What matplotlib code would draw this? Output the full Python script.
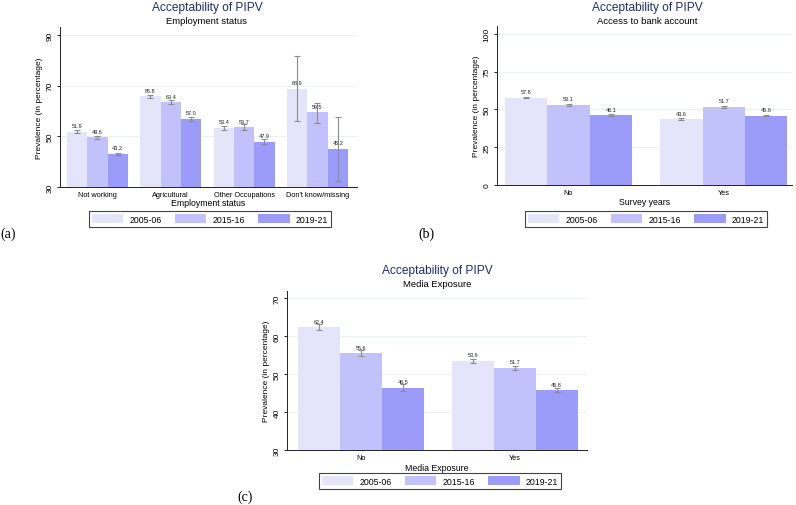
import matplotlib
matplotlib.use('Agg')
import matplotlib.pyplot as plt
import numpy as np

plt.rcParams['font.family'] = ['Liberation Sans', 'DejaVu Sans']

years = ['2005-06', '2015-16', '2019-21']
colors = ['#e4e4fb', '#c1c1fc', '#9b9bfa']
title_color = '#1f2d6e'

# (a) employment status
emp_cats = ['Not working', 'Agricultural', 'Other Occupations', "Don't know/missing"]
emp_vals = [[51.9, 65.8, 53.4, 68.9],
            [49.6, 63.4, 53.7, 59.5],
            [43.2, 57.0, 47.9, 45.2]]
emp_lo = [[51.4, 65.1, 52.6, 56.0],
          [49.1, 62.6, 52.7, 55.4],
          [42.8, 56.2, 46.8, 32.5]]
emp_hi = [[52.4, 66.5, 54.2, 81.7],
          [50.1, 64.2, 54.7, 63.3],
          [43.6, 57.8, 49.0, 57.7]]

# (b) bank account
bank_cats = ['No', 'Yes']
bank_vals = [[57.8, 43.6], [53.1, 51.7], [46.1, 45.9]]
bank_lo = [[57.3, 42.7], [52.4, 51.2], [45.3, 45.5]]
bank_hi = [[58.3, 44.5], [53.8, 52.2], [46.9, 46.3]]

# (c) media exposure
media_cats = ['No', 'Yes']
media_vals = [[62.4, 53.6], [55.6, 51.7], [46.5, 45.8]]
media_lo = [[61.6, 53.1], [54.85, 51.2], [45.6, 45.3]]
media_hi = [[63.2, 54.1], [56.35, 52.2], [47.4, 46.3]]

W, H = 796, 506
fig = plt.figure(figsize=(W / 100, H / 100), dpi=100)


def px_axes(x0, x1, y0, y1):
    # y0 top, y1 bottom in pixels
    return fig.add_axes([x0 / W, 1 - y1 / H, (x1 - x0) / W, (y1 - y0) / H])


def panel(ax, cats, vals, lo, hi, ylim, yticks, xlim, width, fmt='%.1f'):
    x = np.arange(len(cats))
    for i, yr in enumerate(years):
        pos = x + (i - 1) * width
        v = np.array(vals[i])
        err = [v - np.array(lo[i]), np.array(hi[i]) - v]
        ax.bar(pos, v, width, color=colors[i], label=yr, zorder=2)
        ax.errorbar(pos, v, yerr=err, fmt='none', ecolor='#8c8c8c',
                    elinewidth=0.8, capsize=2.2, capthick=0.8, zorder=3)
        for p, val in zip(pos, v):
            ax.annotate(fmt % val, (p, val), xytext=(0, 2.5),
                        textcoords='offset points', ha='center', va='bottom',
                        fontsize=4, color='#222222', zorder=4)
    ax.set_xlim(*xlim)
    ax.set_ylim(*ylim)
    ax.set_yticks(yticks)
    ax.set_yticklabels([str(t) for t in yticks], rotation=90, va='center',
                       fontsize=6)
    ax.set_xticks(x)
    ax.set_xticklabels(cats, fontsize=5.3)
    for t in yticks[1:]:
        ax.axhline(t, color='#e6f0f1', lw=0.6, zorder=1)
    for s in ['top', 'right']:
        ax.spines[s].set_visible(False)
    for s in ['left', 'bottom']:
        ax.spines[s].set_linewidth(0.7)
        ax.spines[s].set_color('#222222')
    ax.tick_params(axis='y', length=2.5, width=0.6, pad=2)
    ax.tick_params(axis='x', length=0, pad=3)
    ax.set_ylabel('Prevalence (in percentage)', fontsize=6, labelpad=3)


def titles(cx, ty, sub):
    fig.text(cx / W, 1 - ty / H, 'Acceptability of PIPV', ha='center',
             va='center', fontsize=8.6, color=title_color)
    fig.text(cx / W, 1 - (ty + 14) / H, sub, ha='center', va='center',
             fontsize=6.8, color='black')


def legend(ax, cx, cy):
    handles, labels = ax.get_legend_handles_labels()
    leg = fig.legend(handles, labels, loc='center', ncol=3,
                     bbox_to_anchor=(cx / W, 1 - cy / H), fontsize=6.3,
                     handlelength=3.6, handleheight=1.1, handletextpad=0.7,
                     columnspacing=1.5, borderpad=0.35, fancybox=False,
                     framealpha=1)
    leg.get_frame().set_edgecolor('#444444')
    leg.get_frame().set_linewidth(0.8)


def tag(cx, cy, s):
    fig.text(cx / W, 1 - cy / H, s, ha='center', va='center', fontsize=10,
             family=['Liberation Serif', 'DejaVu Serif'])


# panel (a)
ax1 = px_axes(60, 357, 28, 188)
panel(ax1, emp_cats, emp_vals, emp_lo, emp_hi, (30, 93.2), [30, 50, 70, 90],
      (-0.51, 3.54), 0.277)
ax1.set_xlabel('Employment status', fontsize=6.3, labelpad=0)
titles(207, 7.5, 'Employment status')
legend(ax1, 210, 220)
tag(8, 234, '(a)')

# panel (b)
ax2 = px_axes(497, 792, 27, 185.7)
panel(ax2, bank_cats, bank_vals, bank_lo, bank_hi, (0, 105.3),
      [0, 25, 50, 75, 100], (-0.461, 1.44), 0.273)
ax2.set_xlabel('Survey years', fontsize=6.3, labelpad=1)
titles(647, 7.5, 'Access to bank account')
legend(ax2, 646, 220)
tag(426, 234, '(b)')

# panel (c)
ax3 = px_axes(287, 587, 291.7, 451.3)
panel(ax3, media_cats, media_vals, media_lo, media_hi, (30, 72),
      [30, 40, 50, 60, 70], (-0.48, 1.47), 0.273)
ax3.set_xlabel('Media Exposure', fontsize=6.3, labelpad=1)
titles(437, 271, 'Media Exposure')
legend(ax3, 440, 482)
tag(245, 497, '(c)')

fig.savefig('out.png', dpi=100)
